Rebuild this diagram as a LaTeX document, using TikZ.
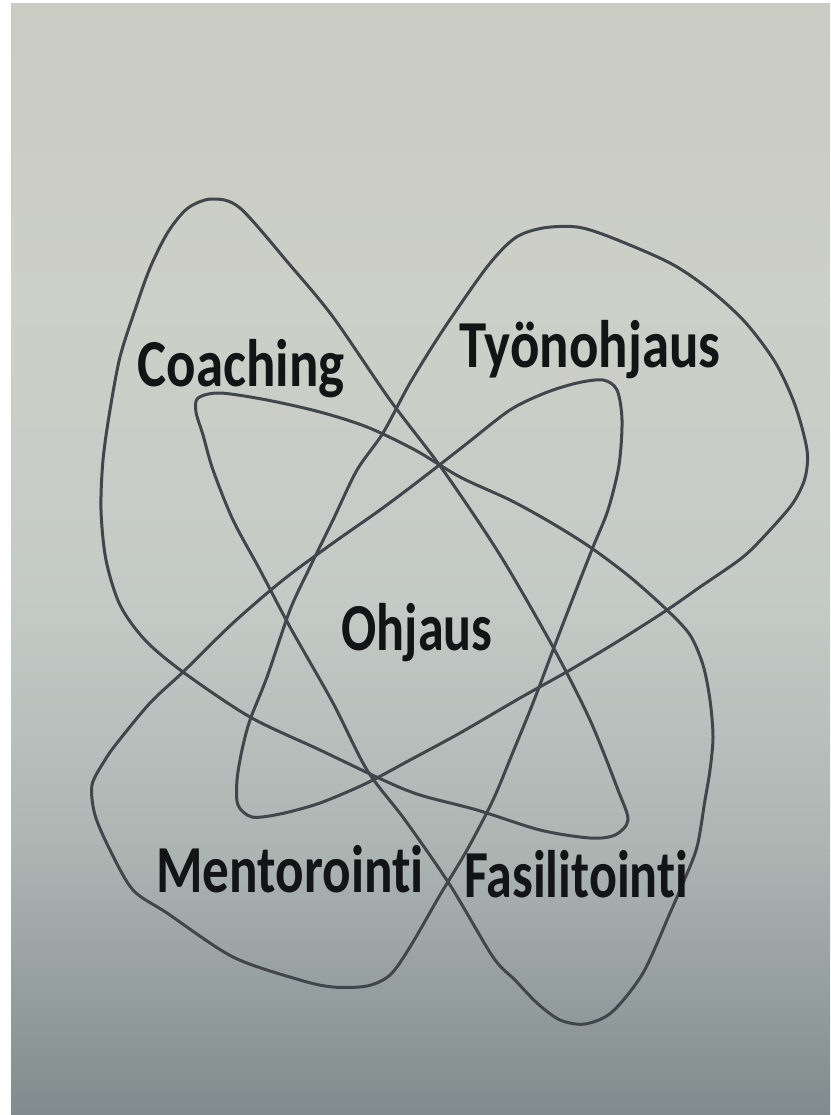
\documentclass[tikz,border=0pt]{standalone}
\usepackage{fontspec}
\setmainfont[Ligatures={NoCommon,NoRare,NoContextual}]{Carlito}
\definecolor{bgA}{HTML}{CACBC3}
\definecolor{bgB}{HTML}{CDD0C8}
\definecolor{bgC}{HTML}{C4CAC6}
\definecolor{bgD}{HTML}{ADB5B3}
\definecolor{bgE}{HTML}{818B8D}
\definecolor{linec}{HTML}{40464B}
\definecolor{textc}{HTML}{121416}
\begin{document}
\begin{tikzpicture}[x=1pt,y=-1pt,
  shapeline/.style={draw=linec, line width=3pt, line join=round},
  lbl/.style={anchor=base, inner sep=0pt, text=textc, font=\fontsize{56}{60}\selectfont\bfseries}]
\useasboundingbox (0,0) rectangle (830,1115);
% photo background
\fill[white] (0,0) rectangle (830,1115);
\shade[top color=bgA, bottom color=bgB] (11,4) rectangle (830,300.5);
\shade[top color=bgB, bottom color=bgC] (11,300) rectangle (830,600.5);
\shade[top color=bgC, bottom color=bgD] (11,600) rectangle (830,850.5);
\shade[top color=bgD, bottom color=bgE] (11,850) rectangle (830,1115);

% Coaching
\draw[shapeline] plot[smooth cycle, tension=0.5] coordinates {
 (212,199) (240,208) (290,265) (333,317) (390,400) (443,470) (500,555)
 (553,647) (590,720) (618,790) (628,820) (615,835) (590,838) (540,830)
 (477,810) (420,795) (383,780) (320,750) (250,717) (183,672) (145,640)
 (120,605) (106,560) (101,510) (103,460) (110,410) (120,357) (135,310)
 (150,268) (168,232) (188,208)};

% Tyonohjaus
\draw[shapeline] plot[smooth cycle, tension=0.5] coordinates {
 (487,267) (515,238) (543,228) (577,227) (610,237) (670,263) (710,290)
 (745,322) (775,362) (795,405) (807,450) (805,478) (793,503) (770,530)
 (743,557) (700,587) (667,610) (620,640) (570,670) (520,698) (460,733)
 (410,760) (367,783) (320,803) (280,814) (252,817) (238,805) (237,780)
 (242,750) (250,720) (267,677) (290,610) (310,567) (333,520) (357,470)
 (383,433) (410,383) (443,330)};

% Fasilitointi
\draw[shapeline] plot[smooth cycle, tension=0.5] coordinates {
 (198,398) (220,393) (267,400) (320,412) (367,427) (415,450) (460,477)
 (510,500) (550,522) (590,547) (630,577) (667,610) (690,635) (703,665)
 (710,700) (713,737) (710,770) (705,800) (697,847) (683,883) (670,913)
 (643,973) (612,1012) (585,1024) (560,1020) (537,1003) (515,980)
 (493,957) (450,885) (405,820) (367,770) (333,703) (290,627) (260,570)
 (233,520) (213,470) (203,435) (196,412)};

% Mentorointi
\draw[shapeline] plot[smooth cycle, tension=0.5] coordinates {
 (603,380) (617,390) (622,420) (619,465) (608,510) (593,547) (573,598)
 (553,650) (533,703) (513,752) (493,800) (467,850) (440,895) (410,947)
 (390,975) (367,986) (333,987) (300,980) (233,957) (167,913) (133,890)
 (110,850) (95,815) (92,785) (105,760) (117,743) (150,703) (183,672)
 (233,623) (283,580) (333,543) (380,510) (420,480) (465,445) (510,410)
 (545,393) (577,383)};

% labels
\node[lbl] (coaching) at (241,386) {\scalebox{0.98}[1.2]{Coaching}};
\node[lbl] (tyonohjaus) at (590,367) {\scalebox{0.98}[1.2]{Työnohjaus}};
\node[lbl] (ohjaus) at (417,650) {\scalebox{0.93}[1.2]{Ohjaus}};
\node[lbl] (mentorointi) at (290,892) {\scalebox{0.95}[1.2]{Mentorointi}};
\node[lbl] (fasilitointi) at (576,897) {\scalebox{0.93}[1.2]{Fasilitointi}};
\end{tikzpicture}
\end{document}
